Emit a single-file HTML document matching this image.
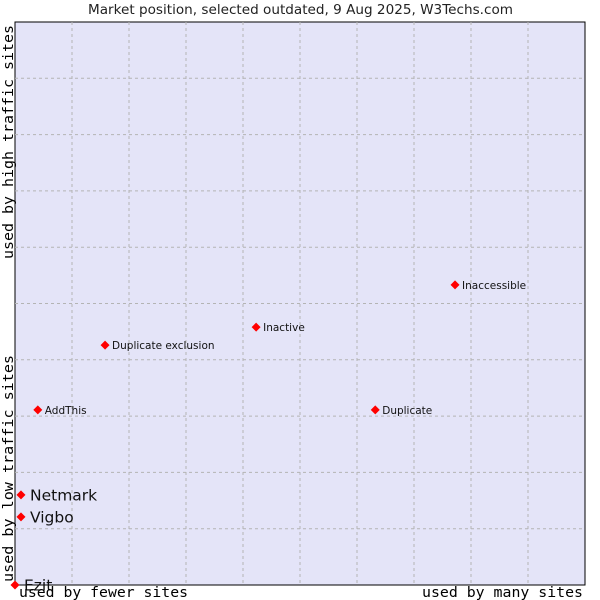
<!DOCTYPE html>
<html><head><meta charset="utf-8"><style>body{margin:0;background:#fff}svg{display:block}</style></head>
<body>
<svg id="chart" width="600" height="600" xmlns="http://www.w3.org/2000/svg">
<text x="88" y="14" textLength="425" lengthAdjust="spacingAndGlyphs" font-family="DejaVu Sans, sans-serif" font-size="13" fill="#222">Market position, selected outdated, 9 Aug 2025, W3Techs.com</text>
<rect x="15" y="22" width="570" height="563" fill="#e4e4f8" stroke="#000" stroke-width="1"/>
<g id="grid"></g>
<g id="points"></g>
<text x="19" y="597" textLength="169" lengthAdjust="spacingAndGlyphs" font-family="DejaVu Sans Mono, monospace" font-size="14" fill="#000">used by fewer sites</text>
<text x="422" y="597" textLength="161" lengthAdjust="spacingAndGlyphs" font-family="DejaVu Sans Mono, monospace" font-size="14" fill="#000">used by many sites</text>
<text transform="translate(13,582) rotate(-90)" textLength="227" lengthAdjust="spacingAndGlyphs" font-family="DejaVu Sans Mono, monospace" font-size="14" fill="#000">used by low traffic sites</text>
<text transform="translate(13,259) rotate(-90)" textLength="234" lengthAdjust="spacingAndGlyphs" font-family="DejaVu Sans Mono, monospace" font-size="14" fill="#000">used by high traffic sites</text>
</svg>
<script>
const names = ["Ezit","Netmark","Vigbo","AddThis","Duplicate exclusion","Inactive","Inaccessible","Duplicate"];
const xs = [0,1.05,1.05,4.0,15.8,42.3,77.2,63.2];
const ys = [0,16.0,12.1,31.1,42.6,45.8,53.3,31.1];
const big = [true,true,true,false,false,false,false,false];
const L=15,T=22,W=570,H=563,NS="http://www.w3.org/2000/svg";
const sx=v=>L+v/100*W, sy=v=>T+H-v/100*H;
const grid=document.getElementById('grid');
for(let i=1;i<10;i++){
  const v=document.createElementNS(NS,'line');
  
  
  v.setAttribute('x1',sx(i*10));v.setAttribute('x2',sx(i*10));v.setAttribute('y1',T);v.setAttribute('y2',T+H);
  v.setAttribute('stroke','#b4b4b4');v.setAttribute('stroke-dasharray','3,3');grid.appendChild(v);
  const h=document.createElementNS(NS,'line');
  
  
  h.setAttribute('y1',sy(i*10));h.setAttribute('y2',sy(i*10));h.setAttribute('x1',L);h.setAttribute('x2',L+W);
  h.setAttribute('stroke','#b4b4b4');h.setAttribute('stroke-dasharray','3,3');grid.appendChild(h);
}
const pts=document.getElementById('points');
names.forEach((n,i)=>{
  const x=sx(xs[i]),y=sy(ys[i]);
  const d=document.createElementNS(NS,'path');
  
  
  d.setAttribute('d',`M${x} ${y-4.5}L${x+4.5} ${y}L${x} ${y+4.5}L${x-4.5} ${y}Z`);
  d.setAttribute('fill','#f00');pts.appendChild(d);
  const t=document.createElementNS(NS,'text');
  
  
  t.setAttribute('x',x+(big[i]?9:7));t.setAttribute('y',y+(big[i]?5.5:4));
  t.setAttribute('font-family','DejaVu Sans, sans-serif');
  t.setAttribute('font-size',big[i]?'15.5':'10.5');t.setAttribute('fill','#111');
  t.textContent=n;pts.appendChild(t);
});
</script>
</body></html>
